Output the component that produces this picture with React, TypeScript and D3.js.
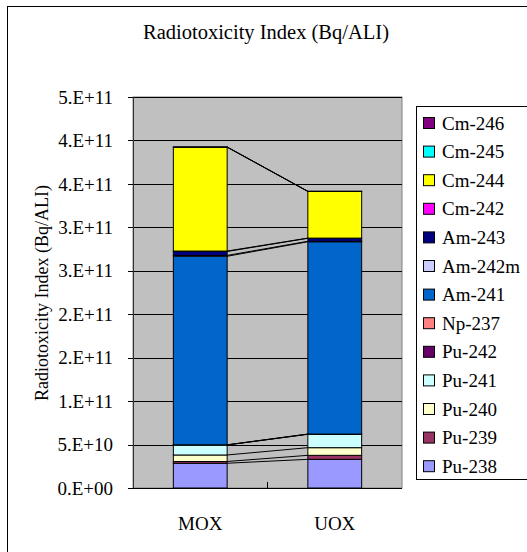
import React, { useEffect, useRef } from 'react';
import * as d3 from 'd3';

// isotopes, stacked bottom -> top
const isotopes = ['Pu-238', 'Pu-239', 'Pu-240', 'Pu-241', 'Pu-242', 'Np-237', 'Am-241', 'Am-242m', 'Am-243', 'Cm-242', 'Cm-244', 'Cm-245', 'Cm-246'];
const colors = ['#9999FF', '#993366', '#FFFFCC', '#CCFFFF', '#660066', '#FF8080', '#0066CC', '#CCCCFF', '#000080', '#FF00FF', '#FFFF00', '#00FFFF', '#800080'];
const categories = ['MOX', 'UOX'];
// Bq/ALI
const moxValues = [2.85e10, 0.2e10, 0.75e10, 1.15e10, 0.01e10, 0.01e10, 21.7e10, 0.1e10, 0.45e10, 0.05e10, 11.95e10, 0.02e10, 0.01e10];
const uoxValues = [3.3e10, 0.46e10, 0.88e10, 1.54e10, 0.02e10, 0.01e10, 22.13e10, 0.05e10, 0.35e10, 0.02e10, 5.37e10, 0.01e10, 0.01e10];
const yTicks = [0, 5e10, 1e11, 1.5e11, 2e11, 2.5e11, 3e11, 3.5e11, 4e11, 4.5e11];

const FONT = "'Liberation Serif', 'Times New Roman', Times, serif";

// excel style 0.E+00
const fmt = (v: number) => {
  if (v === 0) return '0.E+00';
  let e = Math.floor(Math.log10(v));
  let m = Math.round(v / Math.pow(10, e));
  if (m === 10) { m = 1; e++; }
  return `${m}.E+${String(e).padStart(2, '0')}`;
};

const App = () => {
  const ref = useRef<SVGSVGElement>(null);

  useEffect(() => {
    const svg = d3.select(ref.current);
    svg.selectAll('*').remove();

    const plot = { left: 133, top: 97, right: 402, bottom: 488 };

    // chart area border (runs off the picture to the right and bottom)
    svg.append('rect')
      .attr('x', 7.5).attr('y', 6.5)
      .attr('width', 540).attr('height', 560)
      .attr('fill', 'white').attr('stroke', 'black');

    svg.append('text')
      .attr('x', 266).attr('y', 39)
      .attr('text-anchor', 'middle')
      .style('font-family', FONT).style('font-size', '20.5px')
      .text('Radiotoxicity Index (Bq/ALI)');

    const rows = categories.map((c, i) => {
      const r: any = { cat: c };
      isotopes.forEach((k, j) => { r[k] = i === 0 ? moxValues[j] : uoxValues[j]; });
      return r;
    });

    const x = d3.scaleBand()
      .domain(categories)
      .range([plot.left, plot.right])
      .paddingInner(0.6)
      .paddingOuter(0.3);

    const y = d3.scaleLinear()
      .domain([0, 4.5e11])
      .range([plot.bottom, plot.top]);

    // plot area
    svg.append('rect')
      .attr('x', plot.left).attr('y', plot.top)
      .attr('width', plot.right - plot.left).attr('height', plot.bottom - plot.top)
      .attr('fill', '#C0C0C0').attr('stroke', '#808080');

    // gridlines
    svg.append('g')
      .selectAll('line')
      .data(yTicks.slice(1))
      .enter().append('line')
      .attr('x1', plot.left).attr('x2', plot.right)
      .attr('y1', d => Math.round(y(d)) + 0.5).attr('y2', d => Math.round(y(d)) + 0.5)
      .attr('stroke', '#000').attr('stroke-width', 1);

    const stack = d3.stack().keys(isotopes)(rows);

    // bars
    svg.append('g')
      .selectAll('g')
      .data(stack)
      .enter().append('g')
      .attr('fill', (d, i) => colors[i])
      .selectAll('rect')
      .data(d => d)
      .enter().append('rect')
      .attr('x', (d: any) => x(d.data.cat)!)
      .attr('y', d => y(d[1]))
      .attr('width', x.bandwidth())
      .attr('height', d => y(d[0]) - y(d[1]))
      .attr('stroke', '#000').attr('stroke-width', 1);

    // series lines
    svg.append('g')
      .selectAll('line')
      .data(stack)
      .enter().append('line')
      .attr('x1', x('MOX')! + x.bandwidth()).attr('x2', x('UOX')!)
      .attr('y1', d => y(d[0][1])).attr('y2', d => y(d[1][1]))
      .attr('stroke', '#000').attr('stroke-width', 1);

    // y axis
    const yAxis = svg.append('g');
    yAxis.append('line')
      .attr('x1', plot.left + 0.5).attr('x2', plot.left + 0.5)
      .attr('y1', plot.top).attr('y2', plot.bottom)
      .attr('stroke', '#333');
    yAxis.selectAll('line.tick')
      .data(yTicks)
      .enter().append('line')
      .attr('class', 'tick')
      .attr('x1', plot.left - 5).attr('x2', plot.left)
      .attr('y1', d => Math.round(y(d)) + 0.5).attr('y2', d => Math.round(y(d)) + 0.5)
      .attr('stroke', '#000');
    yAxis.selectAll('text')
      .data(yTicks)
      .enter().append('text')
      .attr('x', 113).attr('y', d => y(d))
      .attr('dy', '0.35em')
      .attr('text-anchor', 'end')
      .style('font-family', FONT).style('font-size', '19px')
      .text(d => fmt(d));

    // x axis
    svg.append('line')
      .attr('x1', plot.left).attr('x2', plot.right)
      .attr('y1', plot.bottom + 0.5).attr('y2', plot.bottom + 0.5)
      .attr('stroke', '#000');
    svg.append('line')
      .attr('x1', (plot.left + plot.right) / 2).attr('x2', (plot.left + plot.right) / 2)
      .attr('y1', plot.bottom - 6).attr('y2', plot.bottom)
      .attr('stroke', '#000');
    svg.append('g')
      .selectAll('text')
      .data(categories)
      .enter().append('text')
      .attr('x', d => x(d)! + x.bandwidth() / 2)
      .attr('y', 530)
      .attr('text-anchor', 'middle')
      .style('font-family', FONT).style('font-size', '19px')
      .text(d => d);

    svg.append('text')
      .attr('transform', 'translate(48, 293) rotate(-90)')
      .attr('text-anchor', 'middle')
      .style('font-family', FONT).style('font-size', '18px')
      .text('Radiotoxicity Index (Bq/ALI)');

    // legend, top -> bottom reversed
    const legend = svg.append('g');
    legend.append('rect')
      .attr('x', 416.5).attr('y', 106.5)
      .attr('width', 130).attr('height', 373)
      .attr('fill', 'white').attr('stroke', '#000');
    const items = isotopes.map((k, i) => ({ k, c: colors[i] })).reverse();
    const entry = legend.selectAll('g.item')
      .data(items)
      .enter().append('g')
      .attr('transform', (d, i) => `translate(0, ${123 + i * 28.6})`);
    entry.append('rect')
      .attr('x', 423.5).attr('y', -5.5)
      .attr('width', 11).attr('height', 11)
      .attr('fill', d => d.c).attr('stroke', '#000');
    entry.append('text')
      .attr('x', 442).attr('y', 0)
      .attr('dy', '0.35em')
      .style('font-family', FONT).style('font-size', '19px')
      .text(d => d.k);
  }, []);

  return (
    <svg ref={ref} width={527} height={552}
      style={{ position: 'absolute', left: 0, top: 0, background: 'white' }} />
  );
};

export default App;
